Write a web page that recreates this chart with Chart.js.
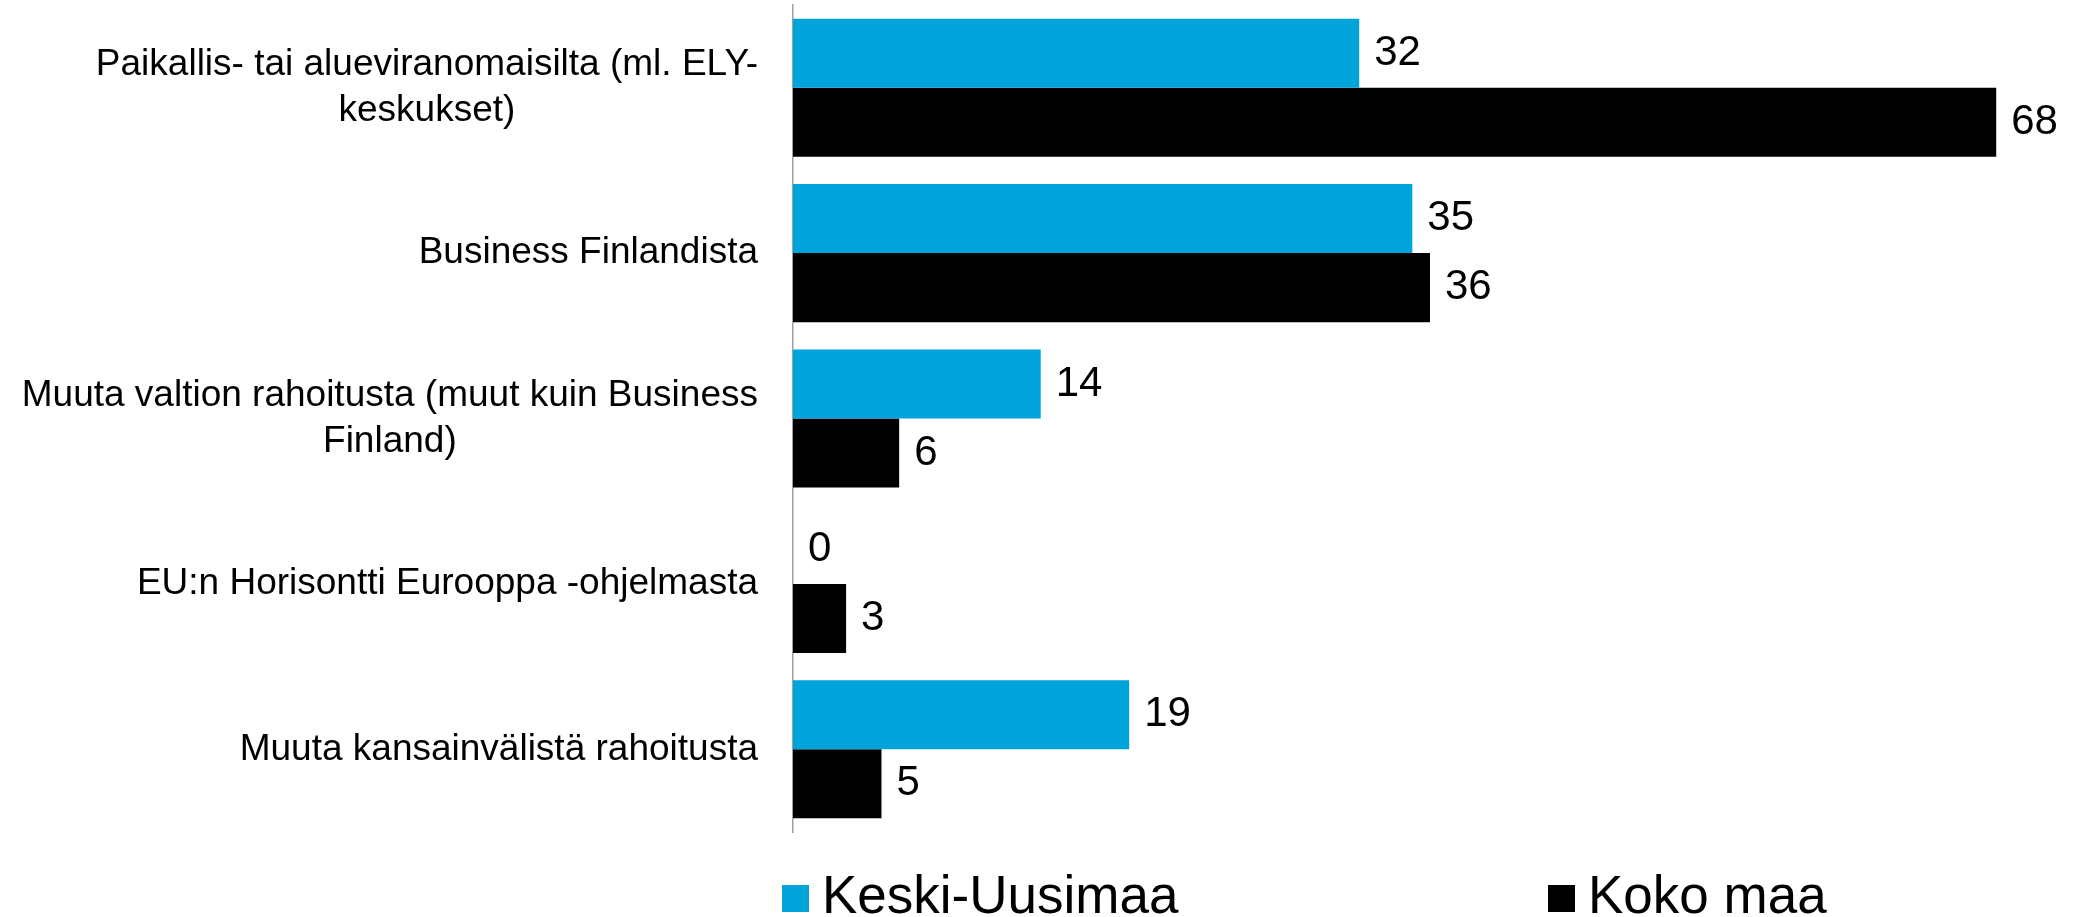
<!DOCTYPE html>
<html>
<head>
<meta charset="utf-8">
<script src="https://cdn.jsdelivr.net/npm/chart.js@4"></script>
<style>
  body { margin: 0; background: #fff; }
  #wrap { width: 2073px; height: 917px; }
</style>
</head>
<body>
<div id="wrap"><canvas id="fundingChart"></canvas></div>
<script>
// Chart data
const categories = [
    ['Paikallis- tai alueviranomaisilta (ml. ELY-', 'keskukset)'],
    'Business Finlandista',
    ['Muuta valtion rahoitusta (muut kuin Business', 'Finland)'],
    'EU:n Horisontti Eurooppa -ohjelmasta',
    'Muuta kansainvälistä rahoitusta'
];
const seriesNames = ['Keski-Uusimaa', 'Koko maa'];
const keskiUusimaa = [32, 35, 14, 0, 19];
const kokoMaa = [68, 36, 6, 3, 5];

const FONT = "'Liberation Sans', Arial, sans-serif";

// category labels: single lines right-aligned, wrapped lines centered on each other
const categoryLabels = {
    id: 'categoryLabels',
    afterDraw(chart) {
        const ctx = chart.ctx;
        const yScale = chart.scales.y;
        const right = chart.chartArea.left - 35;
        ctx.save();
        ctx.font = '37px ' + FONT;
        ctx.fillStyle = '#000';
        ctx.textBaseline = 'middle';
        ctx.textAlign = 'center';
        chart.data.labels.forEach((label, i) => {
            const lines = Array.isArray(label) ? label : [label];
            const maxW = Math.max(...lines.map(l => ctx.measureText(l).width));
            const cx = right - maxW / 2;
            const y = yScale.getPixelForValue(i);
            lines.forEach((line, j) => {
                ctx.fillText(line, cx, y + (j - (lines.length - 1) / 2) * 46);
            });
        });
        ctx.restore();
    }
};

// value labels at bar ends
const valueLabels = {
    id: 'valueLabels',
    afterDatasetsDraw(chart) {
        const ctx = chart.ctx;
        ctx.save();
        ctx.font = '42px ' + FONT;
        ctx.fillStyle = '#000';
        ctx.textBaseline = 'middle';
        ctx.textAlign = 'left';
        chart.data.datasets.forEach((ds, di) => {
            chart.getDatasetMeta(di).data.forEach((bar, i) => {
                ctx.fillText(ds.data[i], bar.x + 15, bar.y);
            });
        });
        ctx.restore();
    }
};

// legend under the plot
const bottomLegend = {
    id: 'bottomLegend',
    afterDraw(chart) {
        const ctx = chart.ctx;
        const positions = [782, 1548];
        ctx.save();
        ctx.font = '53px ' + FONT;
        ctx.textBaseline = 'alphabetic';
        ctx.textAlign = 'left';
        chart.data.datasets.forEach((ds, i) => {
            ctx.fillStyle = ds.backgroundColor;
            ctx.fillRect(positions[i], 885, 27, 27);
            ctx.fillStyle = '#000';
            ctx.fillText(ds.label, positions[i] + 40, 913);
        });
        ctx.restore();
    }
};

const ctx = document.getElementById('fundingChart').getContext('2d');
const fundingChart = new Chart(ctx, {
    type: 'bar',
    data: {
        labels: categories,
        datasets: [
            {
                label: seriesNames[0],
                data: keskiUusimaa,
                backgroundColor: '#00a3da',
                categoryPercentage: 0.835,
                barPercentage: 1.0
            },
            {
                label: seriesNames[1],
                data: kokoMaa,
                backgroundColor: '#000000',
                categoryPercentage: 0.835,
                barPercentage: 1.0
            }
        ]
    },
    options: {
        indexAxis: 'y',
        responsive: true,
        maintainAspectRatio: false,
        animation: false,
        layout: {
            padding: { left: 793, top: 5, right: 6, bottom: 85 }
        },
        plugins: {
            legend: { display: false },
            tooltip: { enabled: false }
        },
        scales: {
            x: {
                display: false,
                min: 0,
                max: 72
            },
            y: {
                ticks: { display: false },
                grid: { display: false, drawTicks: false },
                border: { display: true, color: '#a0a0a0', width: 1.5 }
            }
        }
    },
    plugins: [categoryLabels, valueLabels, bottomLegend]
});
</script>
</body>
</html>
